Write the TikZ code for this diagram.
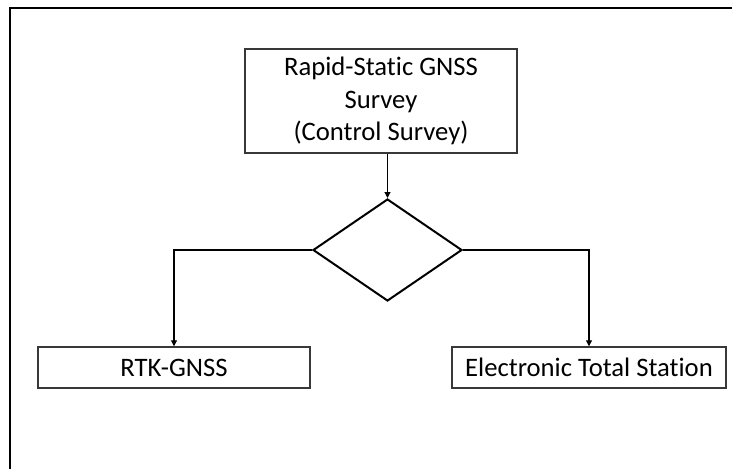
\documentclass[tikz,border=0pt]{standalone}
\usepackage{fontspec}
\setmainfont{Carlito}[Ligatures=NoCommon]
\usetikzlibrary{shapes.geometric,arrows.meta}
\tikzset{
  x=0.75pt, y=-0.75pt,
  box/.style={draw=black!78, line width=1.1pt, fill=white, inner sep=0pt,
              align=center, font=\fontsize{20}{24.5}\selectfont},
  decision/.style={draw=black, line width=1.5pt, shape=diamond, inner sep=0pt,
                   minimum width=111.75pt, minimum height=76.5pt},
  link/.style={draw=black, line width=0.8pt, -{Triangle[length=4.5pt,width=4.5pt]}},
}
\begin{document}
\begin{tikzpicture}
  \useasboundingbox (0,0) rectangle (732,468);
  % outer frame (left and top edges)
  \draw[line width=1.5pt] (10,470) -- (10,8) -- (734,8);

  \node[box, minimum width=204pt, minimum height=78pt] (top) at (381,101)
    {Rapid-Static GNSS\\Survey\\(Control Survey)};
  \node[decision] (dec) at (387.5,250) {};
  \node[box, minimum width=204pt, minimum height=30.75pt] (rtk) at (174,367.5) {RTK-GNSS};
  \node[box, minimum width=205.5pt, minimum height=30.75pt] (ets) at (589,367.5) {Electronic Total Station};

  \draw[link] (top.south -| dec.north) -- (dec.north);
  \draw[link] (dec.west) -| (rtk.north);
  \draw[link] (dec.east) -| (ets.north);
\end{tikzpicture}
\end{document}
